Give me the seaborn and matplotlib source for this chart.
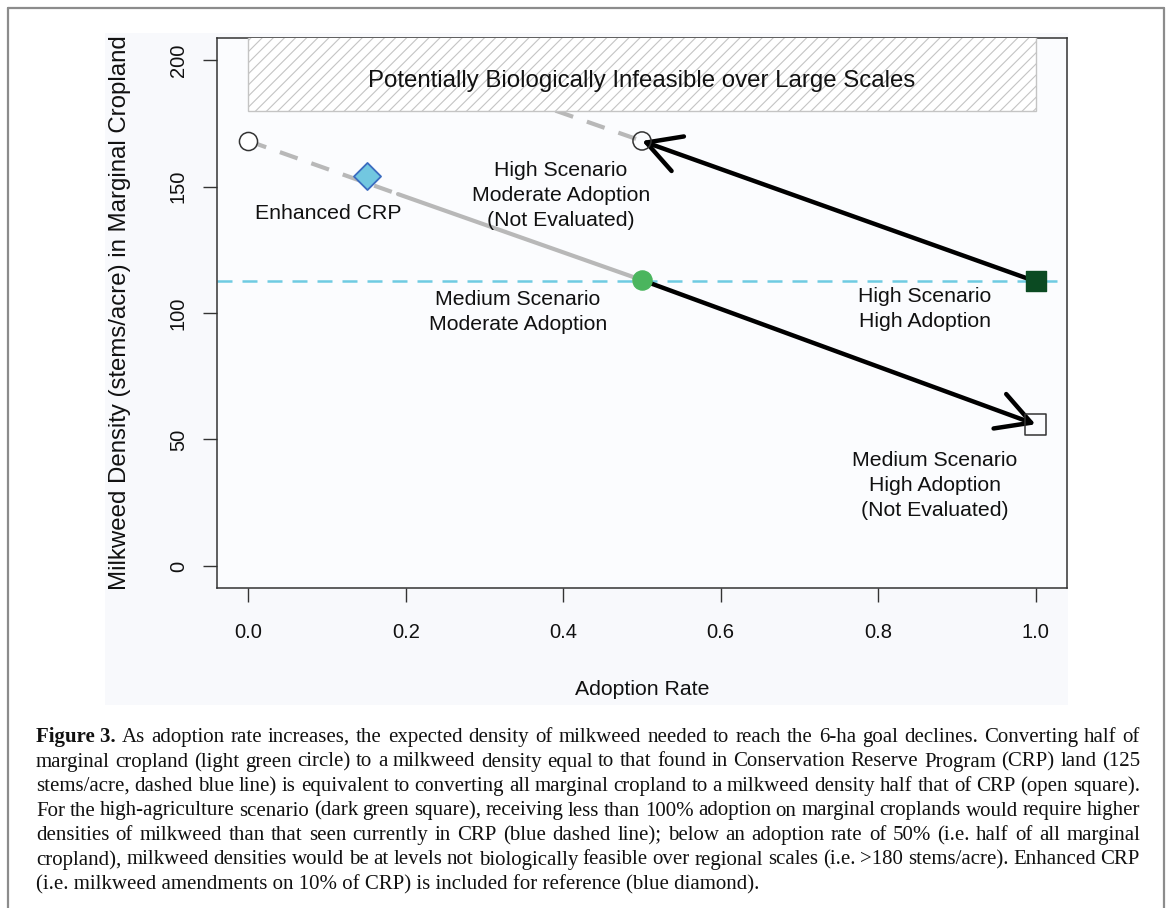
import matplotlib
matplotlib.use("Agg")
import matplotlib.pyplot as plt
import seaborn as sns
from matplotlib.patches import Rectangle
from matplotlib.lines import Line2D

# Data
START_X, START_Y = [0.0], [168]            # open circle, zero adoption
ENHANCED_X, ENHANCED_Y = [0.15], [154]     # Enhanced CRP
MED_MOD_X, MED_MOD_Y = [0.5], [113]        # Medium scenario, moderate adoption
HIGH_MOD_X, HIGH_MOD_Y = [0.5], [168]      # High scenario, moderate adoption
HIGH_HIGH_X, HIGH_HIGH_Y = [1.0], [112.5]  # High scenario, high adoption
MED_HIGH_X, MED_HIGH_Y = [1.0], [56]       # Medium scenario, high adoption

CURVE_DASH_X, CURVE_DASH_Y = [0.0, 0.19], [168, 147]
CURVE_SOLID_X, CURVE_SOLID_Y = [0.19, 0.5], [147, 113]
UPPER_DASH_X, UPPER_DASH_Y = [0.39, 0.5], [180, 168]

CRP_LEVEL = 112.5
INFEASIBLE_LOW, INFEASIBLE_HIGH = 180, 260
INFEASIBLE_X = [0.0, 1.0]

X_TICKS = [0.0, 0.2, 0.4, 0.6, 0.8, 1.0]
Y_TICKS = [0, 50, 100, 150, 200]

LABELS = [
    ("Enhanced CRP", 0.101, 139.5),
    ("High Scenario\nModerate Adoption\n(Not Evaluated)", 0.397, 146.6),
    ("Medium Scenario\nModerate Adoption", 0.342, 100.4),
    ("High Scenario\nHigh Adoption", 0.859, 101.4),
    ("Medium Scenario\nHigh Adoption\n(Not Evaluated)", 0.872, 32),
]

CAPTION_LINES = [
    "As adoption rate increases, the expected density of milkweed needed to reach the 6-ha goal declines. Converting half of",
    "marginal cropland (light green circle) to a milkweed density equal to that found in Conservation Reserve Program (CRP) land (125",
    "stems/acre, dashed blue line) is equivalent to converting all marginal cropland to a milkweed density half that of CRP (open square).",
    "For the high-agriculture scenario (dark green square), receiving less than 100% adoption on marginal croplands would require higher",
    "densities of milkweed than that seen currently in CRP (blue dashed line); below an adoption rate of 50% (i.e. half of all marginal",
    "cropland), milkweed densities would be at levels not biologically feasible over regional scales (i.e. >180 stems/acre). Enhanced CRP",
    "(i.e. milkweed amendments on 10% of CRP) is included for reference (blue diamond).",
]

sns.set_theme(style="ticks")
plt.rcParams["font.family"] = ["Liberation Sans", "DejaVu Sans"]
plt.rcParams["hatch.linewidth"] = 0.8

W, H = 1168, 908
fig = plt.figure(figsize=(W / 100, H / 100), dpi=100)
fig.patch.set_facecolor("white")

# light panel behind the plot and the outer caption box
fig.patches.append(Rectangle((105 / W, 1 - 705 / H), 963 / W, 672 / H,
                             transform=fig.transFigure, facecolor="#f8f9fc",
                             edgecolor="none", zorder=-2))
for xs, ys in [([8, 8], [8, H]), ([8, 1164], [8, 8]), ([1164, 1164], [8, H])]:
    fig.lines.append(Line2D([x / W for x in xs], [1 - y / H for y in ys],
                            transform=fig.transFigure, color="#8c8c8c", lw=1.6, zorder=-1))

ax = fig.add_axes([217 / W, 1 - 588 / H, 850 / W, 550 / H])
ax.set_facecolor("#fbfcfe")

# CRP reference line
ax.axhline(CRP_LEVEL, color="#6fcbe2", lw=1.8, ls=(0, (6, 4)), zorder=1)

# grey trend lines
sns.lineplot(x=CURVE_DASH_X, y=CURVE_DASH_Y, ax=ax, color="#b8b8b8", lw=3,
             linestyle=(0, (4.5, 3.5)), zorder=2)
sns.lineplot(x=CURVE_SOLID_X, y=CURVE_SOLID_Y, ax=ax, color="#b8b8b8", lw=3, zorder=2)
sns.lineplot(x=UPPER_DASH_X, y=UPPER_DASH_Y, ax=ax, color="#b8b8b8", lw=3,
             linestyle=(0, (4.5, 3.5)), zorder=2)

# infeasible region
ax.add_patch(Rectangle((INFEASIBLE_X[0], INFEASIBLE_LOW), INFEASIBLE_X[1] - INFEASIBLE_X[0],
                       INFEASIBLE_HIGH - INFEASIBLE_LOW, facecolor="white",
                       edgecolor="#c4c4c4", hatch="///", lw=1, zorder=3))
ax.text(0.499, 191.7, "Potentially Biologically Infeasible over Large Scales",
        ha="center", va="center", fontsize=17.3, color="#111111", zorder=4)

# arrows
arrow = dict(arrowstyle="->,head_length=2.0,head_width=1.1", lw=3.2, color="black",
             shrinkA=0, shrinkB=0)
ax.annotate("", xy=(HIGH_MOD_X[0], HIGH_MOD_Y[0]), xytext=(HIGH_HIGH_X[0], HIGH_HIGH_Y[0]),
            arrowprops=arrow, zorder=5)
ax.annotate("", xy=(MED_HIGH_X[0], MED_HIGH_Y[0]), xytext=(MED_MOD_X[0], MED_MOD_Y[0]),
            arrowprops=arrow, zorder=5)

# points
sns.scatterplot(x=START_X, y=START_Y, ax=ax, marker="o", s=170, facecolor="white",
                edgecolor="#333333", linewidth=1.1, zorder=6)
sns.scatterplot(x=HIGH_MOD_X, y=HIGH_MOD_Y, ax=ax, marker="o", s=170, facecolor="none",
                edgecolor="#333333", linewidth=1.1, zorder=6)
sns.scatterplot(x=ENHANCED_X, y=ENHANCED_Y, ax=ax, marker="D", s=190, facecolor="#72c7e0",
                edgecolor="#3b6cc0", linewidth=1.3, zorder=6)
sns.scatterplot(x=MED_MOD_X, y=MED_MOD_Y, ax=ax, marker="o", s=190, facecolor="#4bb55e",
                edgecolor="#4bb55e", linewidth=1, zorder=6)
sns.scatterplot(x=HIGH_HIGH_X, y=HIGH_HIGH_Y, ax=ax, marker="s", s=220, facecolor="#0b4a22",
                edgecolor="#0b4a22", linewidth=1, zorder=6)
sns.scatterplot(x=MED_HIGH_X, y=MED_HIGH_Y, ax=ax, marker="s", s=240, facecolor="none",
                edgecolor="#333333", linewidth=1.1, zorder=6)

for txt, x, y in LABELS:
    ax.text(x, y, txt, ha="center", va="center", fontsize=15.3, linespacing=1.4,
            color="#111111", zorder=7)

ax.set_xlim(-0.04, 1.04)
ax.set_ylim(-8.7, 208.7)
ax.set_xticks(X_TICKS)
ax.set_xticklabels([f"{v:.1f}" for v in X_TICKS])
ax.set_yticks(Y_TICKS)
ax.set_yticklabels([str(v) for v in Y_TICKS], rotation=90, va="center")
ax.tick_params(axis="both", direction="out", length=10, width=1, color="#333333",
               labelsize=14.5, labelcolor="#111111")
ax.tick_params(axis="x", pad=15)
ax.tick_params(axis="y", pad=11)
for sp in ax.spines.values():
    sp.set_color("#333333")
    sp.set_linewidth(1.1)

ax.set_xlabel("Adoption Rate", fontsize=15.3, color="#111111")
ax.xaxis.set_label_coords(0.5, -0.167)
ax.set_ylabel("Milkweed Density (stems/acre) in Marginal Cropland", fontsize=17.3,
              color="#111111")
ax.yaxis.set_label_coords(-0.101, 0.5)

# caption, justified line by line
CAP_FONT = ["Liberation Serif", "DejaVu Serif"]
CAP_SIZE = 15
LEFT, RIGHT = 36, 1140
fig.canvas.draw()
rend = fig.canvas.get_renderer()
for i, line in enumerate(CAPTION_LINES):
    yb = 1 - (742 + 24.5 * i) / H
    last = i == len(CAPTION_LINES) - 1
    if last:
        fig.text(LEFT / W, yb, line, family=CAP_FONT, fontsize=CAP_SIZE,
                 va="baseline", ha="left", color="#111111")
        continue
    tokens = [(w, "normal") for w in line.split(" ")]
    if i == 0:
        tokens = [("Figure 3.", "bold")] + tokens
    texts = [fig.text(0, yb, w, family=CAP_FONT, fontsize=CAP_SIZE, fontweight=wt,
                      va="baseline", ha="left", color="#111111") for w, wt in tokens]
    widths = [t.get_window_extent(rend).width for t in texts]
    gap = (RIGHT - LEFT - sum(widths)) / (len(texts) - 1)
    x = LEFT
    for t, wd in zip(texts, widths):
        t.set_x(x / W)
        x += wd + gap

fig.savefig("out.png", dpi=100)
